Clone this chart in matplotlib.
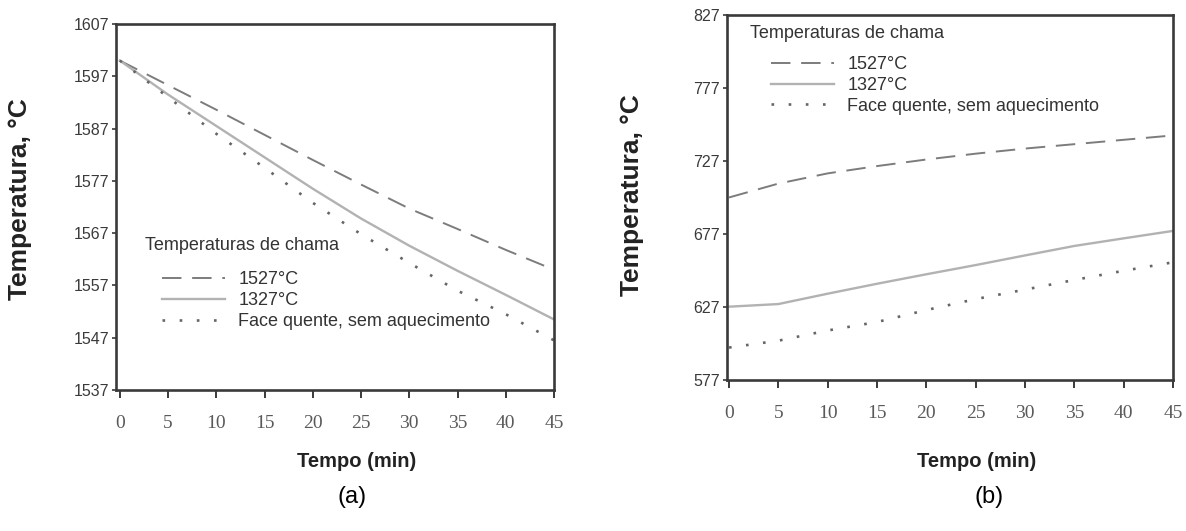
import matplotlib.pyplot as plt

plt.rcParams['font.family'] = ['Liberation Sans', 'DejaVu Sans']

# tempo (min)
tempo = [0, 5, 10, 15, 20, 25, 30, 35, 40, 45]

# (a) face quente
a_1527 = [1600, 1595.3, 1590.6, 1585.8, 1581.0, 1576.3, 1571.7, 1567.8, 1563.8, 1560.0]
a_1327 = [1600, 1593.5, 1587.5, 1581.5, 1575.5, 1569.8, 1564.6, 1559.8, 1555.2, 1550.5]
a_sem = [1600, 1593.0, 1586.0, 1579.5, 1572.8, 1566.8, 1561.3, 1556.0, 1551.5, 1546.5]

# (b) face fria
b_1527 = [702, 711.5, 718.5, 723.5, 728, 732, 735.5, 738.5, 741.5, 744.5]
b_1327 = [627.2, 629.0, 636.1, 642.9, 649.4, 655.7, 662.3, 668.8, 674.0, 679.1]
b_sem = [599.2, 603.9, 610.9, 616.7, 624.9, 632.4, 638.9, 645.5, 651.8, 657.6]

a_yticks = [1537, 1547, 1557, 1567, 1577, 1587, 1597, 1607]
b_yticks = [577, 627, 677, 727, 777, 827]
xticks = [0, 5, 10, 15, 20, 25, 30, 35, 40, 45]

labels = ['1527°C', '1327°C', 'Face quente, sem aquecimento']
legend_title = 'Temperaturas de chama'

fig = plt.figure(figsize=(11.86, 5.31), dpi=100)
ax1 = fig.add_axes([0.0978, 0.2655, 0.3693, 0.6893])
ax2 = fig.add_axes([0.6130, 0.2844, 0.3760, 0.6874])

styles = [
    dict(color='#7c7c7c', lw=1.4, ls=(0, (10, 5.5))),
    dict(color='#b2b2b2', lw=1.7, ls='-'),
    dict(color='#666666', lw=1.9, ls=(0, (1, 5.5))),
]


def draw(ax, series, yticks, xmin, title_pos, leg_pos, ylab_pos, xlab_pos):
    for ys, st, lab in zip(series, styles, labels):
        ax.plot(tempo, ys, label=lab, **st)
    ax.set_xlim(xmin, 45)
    ax.set_ylim(yticks[0], yticks[-1])
    ax.set_yticks(yticks)
    ax.set_xticks(xticks)
    for s in ax.spines.values():
        s.set_linewidth(1.9)
        s.set_color('#3a3a3a')
    ax.tick_params(axis='y', direction='out', length=3, width=1.2, pad=2,
                   labelsize=11.5, colors='#3a3a3a')
    ax.tick_params(axis='x', direction='out', length=6, width=1.4, pad=12,
                   colors='#3a3a3a')
    for t in ax.get_xticklabels():
        t.set_family('Liberation Serif')
        t.set_fontsize(14)
        t.set_color('#5a5a5a')
    ax.set_ylabel('Temperatura, °C', fontsize=19, fontweight='bold', color='#222222')
    ax.yaxis.set_label_coords(*ylab_pos)
    ax.set_xlabel('Tempo (min)', fontsize=14.5, fontweight='bold', color='#222222')
    ax.xaxis.set_label_coords(*xlab_pos)
    ax.text(title_pos[0], title_pos[1], legend_title, transform=ax.transAxes,
            fontsize=13, color='#333333', va='center', ha='left')
    leg = ax.legend(loc='upper left', bbox_to_anchor=leg_pos, frameon=False,
                    fontsize=13, handlelength=3.5, handletextpad=0.72,
                    labelspacing=0.22, borderpad=0, borderaxespad=0)
    for t in leg.get_texts():
        t.set_color('#333333')


draw(ax1, [a_1527, a_1327, a_sem], a_yticks, -0.4,
     (0.066, 0.396), (0.105, 0.325), (-0.192, 0.522), (0.55, -0.169))
draw(ax2, [b_1527, b_1327, b_sem], b_yticks, -0.2,
     (0.052, 0.948), (0.099, 0.888), (-0.186, 0.507), (0.56, -0.197))

fig.text(352 / 1186, 1 - 497 / 531, '(a)', fontsize=17, ha='center', va='center')
fig.text(989 / 1186, 1 - 497 / 531, '(b)', fontsize=17, ha='center', va='center')

fig.savefig('out.png', dpi=100)
